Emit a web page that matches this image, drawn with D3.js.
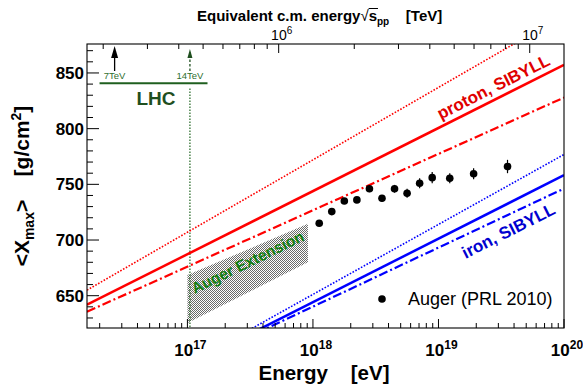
<!DOCTYPE html>
<meta charset="utf-8">
<style>
  body { background-color: white; margin: 0; padding: 0; }
  svg { font-family: "Liberation Sans", Arial, Helvetica, sans-serif; }
</style>
<script src="https://d3js.org/d3.v7.min.js"></script>
<svg id="vis"></svg>
<script>

// Auger (PRL 2010) <Xmax> points
var augerLogE = [18.05, 18.15, 18.25, 18.35, 18.45, 18.55, 18.65, 18.75, 18.85, 18.95, 19.09, 19.28, 19.55];
var augerXmax = [715, 725.5, 735, 736, 746, 737.5, 746, 742, 751, 756, 755.5, 759.5, 766];
var augerErr  = [2, 2, 2, 2.5, 3, 3, 3.5, 4, 4.5, 5, 4.5, 5, 6];

// SIBYLL predictions (straight in log E), given at the two ends of the frame
var modelLogE  = [16.2, 20];
var protonMean = [641.9, 857.3];
var protonHigh = [655, 902];
var protonLow  = [635.6, 827.9];
var ironMean   = [541.6, 758.2];
var ironHigh   = [538.1, 776.8];
var ironLow    = [544.8, 746.2];

// Auger extension region
var extLogE = [17, 17.96, 17.96, 17];
var extXmax = [668.5, 714.5, 680, 625.5];

// LHC energies
var lhcLogE   = [16.42, 17.02];
var lhcLabels = ["7TeV", "14TeV"];

// tick labels
var xMajor = [17, 18, 19, 20];
var yMajor = [650, 700, 750, 800, 850];
var topMajor = [6, 7];

var width = 583, height = 385;
var svg = d3.select("svg").attr("width", width).attr("height", height);

var pL = 87, pR = 564, pT = 44, pB = 328;

var x = d3.scaleLinear().domain([16.2, 20]).range([pL, pR]);
var y = d3.scaleLinear().domain([621, 876]).range([pB, pT]);
// top axis: sqrt(s) value -> log E
var topToLogE = function(lv) { return 2 * lv + 5.727; };

var defs = svg.append("defs");
defs.append("clipPath").attr("id", "frame")
  .append("rect").attr("x", pL).attr("y", pT).attr("width", pR - pL).attr("height", pB - pT);

var pat = defs.append("pattern").attr("id", "dots")
  .attr("width", 2).attr("height", 2).attr("patternUnits", "userSpaceOnUse");
pat.append("rect").attr("width", 2).attr("height", 2).attr("fill", "#fff");
pat.append("rect").attr("width", 1).attr("height", 1).attr("fill", "#6a6a6a");
pat.append("rect").attr("x", 1).attr("y", 1).attr("width", 1).attr("height", 1).attr("fill", "#6a6a6a");

var plot = svg.append("g").attr("clip-path", "url(#frame)");

// Auger extension
plot.append("path")
  .datum(d3.zip(extLogE, extXmax))
  .attr("d", d3.line().x(d => x(d[0])).y(d => y(d[1])).curve(d3.curveLinearClosed))
  .attr("fill", "url(#dots)");

// LHC 14 TeV dotted line
plot.append("line")
  .attr("x1", x(lhcLogE[1])).attr("x2", x(lhcLogE[1]))
  .attr("y1", y(836)).attr("y2", pB)
  .attr("stroke", "#2f6f2f").attr("stroke-width", 1.3).attr("stroke-dasharray", "1.5,1.5");

var line = d3.line().x(d => x(d[0])).y(d => y(d[1]));
var models = [
  {v: protonHigh, c: "#ff0000", w: 1.6, dash: "1.6,1.6"},
  {v: protonMean, c: "#ff0000", w: 2.5, dash: null},
  {v: protonLow,  c: "#ff0000", w: 2.2, dash: "9,3,2,3"},
  {v: ironHigh,   c: "#0000ff", w: 1.6, dash: "1.6,1.6"},
  {v: ironMean,   c: "#0000ff", w: 2.5, dash: null},
  {v: ironLow,    c: "#0000ff", w: 2.2, dash: "9,3,2,3"}
];
plot.selectAll(".model").data(models).enter().append("path")
  .attr("class", "model")
  .attr("d", d => line(d3.zip(modelLogE, d.v)))
  .attr("fill", "none")
  .attr("stroke", d => d.c)
  .attr("stroke-width", d => d.w)
  .attr("stroke-dasharray", d => d.dash);

// data points
var pts = d3.range(augerLogE.length);
plot.selectAll(".err").data(pts).enter().append("line")
  .attr("x1", i => x(augerLogE[i])).attr("x2", i => x(augerLogE[i]))
  .attr("y1", i => y(augerXmax[i] - augerErr[i])).attr("y2", i => y(augerXmax[i] + augerErr[i]))
  .attr("stroke", "#000").attr("stroke-width", 1.2);
plot.selectAll(".pt").data(pts).enter().append("circle")
  .attr("cx", i => x(augerLogE[i])).attr("cy", i => y(augerXmax[i]))
  .attr("r", 3.8).attr("fill", "#000");

// frame
svg.append("rect").attr("x", pL).attr("y", pT).attr("width", pR - pL).attr("height", pB - pT)
  .attr("fill", "none").attr("stroke", "#000").attr("stroke-width", 1.1);

// bottom axis ticks
var xTicks = [];
for (var e = 16; e < 20; e++) for (var m = 1; m < 10; m++) {
  var lv = e + Math.log10(m);
  if (lv >= 16.2 && lv <= 20) xTicks.push({v: lv, major: m == 1});
}
xTicks.push({v: 20, major: true});
svg.selectAll(".xt").data(xTicks).enter().append("line")
  .attr("x1", d => x(d.v)).attr("x2", d => x(d.v))
  .attr("y1", pB).attr("y2", d => pB - (d.major ? 9 : 5))
  .attr("stroke", "#000").attr("stroke-width", 1);

var xl = svg.selectAll(".xl").data(xMajor).enter().append("text")
  .attr("x", d => x(d) + 3).attr("y", 356)
  .attr("text-anchor", "middle").attr("font-weight", "bold").attr("font-size", 17);
xl.append("tspan").text("10");
xl.append("tspan").attr("dy", -7).attr("font-size", 12).text(d => d);

// top axis ticks
var topTicks = [];
for (var e2 = 5; e2 < 8; e2++) for (var m2 = 1; m2 < 10; m2++) {
  var le = topToLogE(e2 + Math.log10(m2));
  if (le >= 16.2 && le <= 20) topTicks.push({v: le, major: m2 == 1});
}
svg.selectAll(".tt").data(topTicks).enter().append("line")
  .attr("x1", d => x(d.v)).attr("x2", d => x(d.v))
  .attr("y1", pT).attr("y2", d => pT + (d.major ? 9 : 5))
  .attr("stroke", "#000").attr("stroke-width", 1);
var tl = svg.selectAll(".tl").data(topMajor).enter().append("text")
  .attr("x", d => x(topToLogE(d)) + 3).attr("y", 40)
  .attr("text-anchor", "middle").attr("font-size", 14);
tl.append("tspan").text("10");
tl.append("tspan").attr("dy", -6).attr("font-size", 10).text(d => d);

// y axis ticks
var yTicks = d3.range(630, 876, 10);
svg.selectAll(".yt").data(yTicks).enter().append("line")
  .attr("x1", pL).attr("x2", d => pL + (d % 50 == 0 ? 12 : 6))
  .attr("y1", d => y(d)).attr("y2", d => y(d))
  .attr("stroke", "#000").attr("stroke-width", 1);
svg.selectAll(".yl").data(yMajor).enter().append("text")
  .attr("x", 84).attr("y", d => y(d)).attr("dy", "0.36em")
  .attr("text-anchor", "end").attr("font-weight", "bold").attr("font-size", 17)
  .text(d => d);

// axis titles
svg.append("text").attr("x", 324).attr("y", 380)
  .attr("text-anchor", "middle").attr("font-weight", "bold").attr("font-size", 20.5)
  .attr("xml:space", "preserve").text("Energy    [eV]");

var yt = svg.append("text").attr("transform", "translate(29,186) rotate(-90)")
  .attr("text-anchor", "middle").attr("font-weight", "bold").attr("font-size", 21)
  .attr("xml:space", "preserve");
yt.append("tspan").text("<X");
yt.append("tspan").attr("dy", 5).attr("font-size", 14).text("max");
yt.append("tspan").attr("dy", -5).text(">    [g/cm");
yt.append("tspan").attr("dy", -8).attr("font-size", 14).text("2");
yt.append("tspan").attr("dy", 8).text("]");

var tt = svg.append("text").attr("x", 197).attr("y", 21)
  .attr("font-weight", "bold").attr("font-size", 15).attr("xml:space", "preserve");
tt.append("tspan").text("Equivalent c.m. energy");
tt.append("tspan").attr("font-weight", "normal").text("\u221A");
tt.append("tspan").text("s");
tt.append("tspan").attr("dy", 4).attr("font-size", 10).text("pp");
tt.append("tspan").attr("dy", -4).text("    [TeV]");
var sIdx = "Equivalent c.m. energy".length + 1;
var ext = tt.node().getExtentOfChar(sIdx);
svg.append("line").attr("x1", ext.x).attr("x2", ext.x + ext.width + 1)
  .attr("y1", ext.y + 1.5).attr("y2", ext.y + 1.5).attr("stroke", "#000").attr("stroke-width", 1);

// model labels
var slope = (y(protonMean[0]) - y(protonMean[1])) / (x(modelLogE[1]) - x(modelLogE[0]));
var ang = -Math.atan(slope) * 180 / Math.PI;
svg.append("text").attr("transform", "translate(496,92) rotate(" + ang + ")")
  .attr("text-anchor", "middle").attr("font-weight", "bold").attr("font-size", 17)
  .attr("fill", "#e00000").text("proton, SIBYLL");
svg.append("text").attr("transform", "translate(511,236) rotate(" + ang + ")")
  .attr("text-anchor", "middle").attr("font-weight", "bold").attr("font-size", 17)
  .attr("fill", "#0000d0").text("iron, SIBYLL");
svg.append("text").attr("transform", "translate(250,267) rotate(-26)")
  .attr("text-anchor", "middle").attr("font-weight", "bold").attr("font-size", 15.5)
  .attr("fill", "#137f13").text("Auger Extension");

// LHC annotation
svg.append("line").attr("x1", x(16.3)).attr("x2", x(17.16)).attr("y1", y(840.7)).attr("y2", y(840.7))
  .attr("stroke", "#1f5f1f").attr("stroke-width", 2);
svg.append("text").attr("x", 156).attr("y", 105).attr("text-anchor", "middle")
  .attr("font-weight", "bold").attr("font-size", 19).attr("fill", "#1f4f1f").text("LHC");
svg.selectAll(".lhcl").data(lhcLabels).enter().append("text")
  .attr("x", (d, i) => x(lhcLogE[i])).attr("y", 79).attr("text-anchor", "middle")
  .attr("font-size", 9.5).attr("fill", "#2f6f2f").text(d => d);
lhcLogE.forEach(function(le, i) {
  var cx = x(le);
  var w = i == 0 ? 3.5 : 2.5;
  svg.append("line").attr("x1", cx).attr("x2", cx).attr("y1", 71).attr("y2", 52)
    .attr("stroke", i == 0 ? "#000" : "#1f4f1f").attr("stroke-width", 1.3)
    .attr("stroke-dasharray", i == 0 ? null : "2.5,2");
  svg.append("path").attr("d", "M" + (cx - w) + ",58L" + cx + "," + (i == 0 ? 46 : 49) + "L" + (cx + w) + ",58Z")
    .attr("fill", i == 0 ? "#000" : "#1f4f1f");
});

// legend
svg.append("circle").attr("cx", 382).attr("cy", 299).attr("r", 3.8).attr("fill", "#000");
svg.append("text").attr("x", 408).attr("y", 305).attr("font-size", 18).text("Auger (PRL 2010)");

</script>
